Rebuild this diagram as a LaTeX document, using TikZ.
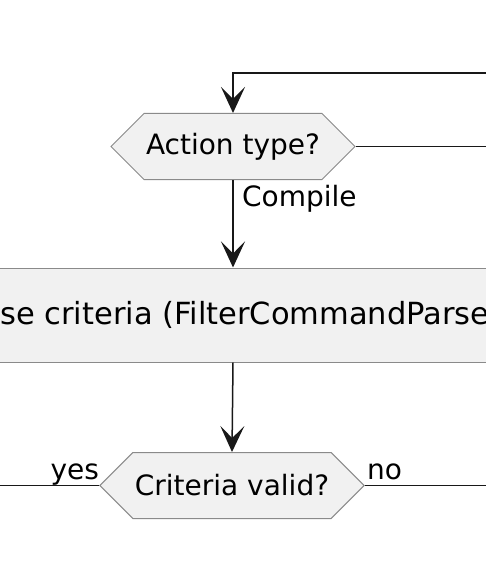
\documentclass[tikz,border=0pt]{standalone}
\usepackage{fontspec}
\setmainfont{DejaVu Sans}
\usepackage{xcolor}
\usepackage{tikz}
\usetikzlibrary{calc,arrows.meta,shapes.symbols}
\definecolor{boxfill}{HTML}{F1F1F1}
\definecolor{boxline}{HTML}{8A8A8A}
\definecolor{flow}{HTML}{181818}
\definecolor{txt}{HTML}{000000}
\tikzset{
  flowLine/.style={draw=flow, line width=1.5pt},
  flowArrow/.style={flowLine, -{Stealth[length=26pt, width=24pt, inset=12pt]}},
  decisionBox/.style={shape=signal, signal from=nowhere, signal to=west and east,
    signal pointer angle=90, draw=boxline, fill=boxfill, line width=1pt,
    minimum height=66pt, inner xsep=2pt, inner ysep=0pt, text=txt,
    font=\fontsize{28}{34}\selectfont},
  actionBox/.style={rectangle, draw=boxline, fill=boxfill, line width=1pt,
    minimum height=94pt, inner xsep=30pt, text=txt, font=\fontsize{30.5}{36}\selectfont},
  flowLbl/.style={text=txt, font=\fontsize{28}{34}\selectfont},
}

\begin{document}
\begin{tikzpicture}[x=1pt, y=-1pt]
  \useasboundingbox (0,0) rectangle (486,564);
  \clip (0,0) rectangle (486,564);

  \node[decisionBox] (typeQ) at (233,146.5) {Action type?};
  \node[actionBox] (parseAct) at (233,315) {Parse criteria (FilterCommandParser)};
  \node[decisionBox] (validQ) at (232,485.5) {Criteria valid?};

  \coordinate (loopStart) at (487,73);
  \coordinate (loopCorner) at (233,73);
  \coordinate (typeOut) at (487,146.5);
  \coordinate (yesEnd) at (-1,485.5);
  \coordinate (noEnd) at (487,485.5);

  \draw[flowArrow] (loopStart) -- (loopCorner) -- (typeQ.north);
  \draw[flowLine] (typeQ.east) -- (typeOut);

  \draw[flowArrow] (typeQ.south) -- (parseAct.north)
    node[flowLbl, pos=0.22, right, xshift=5pt] (compileLbl) {Compile};
  \draw[flowArrow] (parseAct.south) -- (validQ.north);

  \draw[flowLine] (validQ.west) -- (yesEnd);
  \draw[flowLine] (validQ.east) -- (noEnd);
  \node[flowLbl, anchor=base east, inner sep=0pt] (yesLbl) at ($(validQ.west)+(0,-6.5)$) {yes};
  \node[flowLbl, anchor=base west, inner sep=0pt] (noLbl) at ($(validQ.east)+(2,-6.5)$) {no};
\end{tikzpicture}
\end{document}
